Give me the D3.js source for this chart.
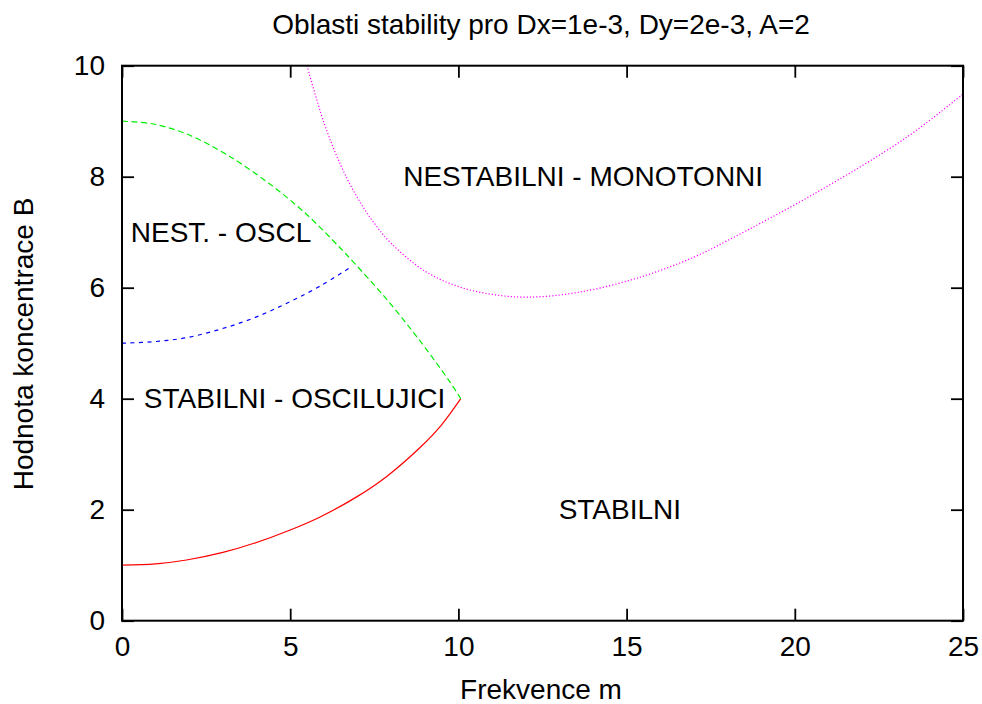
<!DOCTYPE html>
<html>
<head>
<meta charset="utf-8">
<script src="https://cdn.jsdelivr.net/npm/d3@7"></script>
<style>
  html, body { margin: 0; padding: 0; background: #fff; }
  svg { display: block; }
  text { font-family: "Liberation Sans", Arial, Helvetica, sans-serif; fill: #000; }
</style>
</head>
<body>
<svg id="chart" width="982" height="704"></svg>
<script>
// ---- data ----
const titleText = "Oblasti stability pro Dx=1e-3, Dy=2e-3, A=2";
const xLabel = "Frekvence m";
const yLabel = "Hodnota koncentrace B";
const xTicks = [0, 5, 10, 15, 20, 25];
const yTicks = [0, 2, 4, 6, 8, 10];

// red solid: lower bound of oscillating region
const redM = [0, 1, 1.92, 3, 3.9, 5, 5.89, 7, 7.87, 8.86, 9.5, 10.07];
const redB = [1.0, 1.025, 1.094, 1.23, 1.39, 1.635, 1.87, 2.24, 2.6, 3.12, 3.53, 4.0];
// green dashed: upper bound of oscillating region
const greenM = [0, 0.93, 1.92, 2.91, 3.5, 4.5, 5.49, 6.48, 6.88, 7.77, 8.76, 9.75, 10.07];
const greenB = [9.0, 8.95, 8.77, 8.47, 8.25, 7.82, 7.32, 6.72, 6.46, 5.86, 5.12, 4.3, 4.0];
// blue dashed: Hopf boundary
const blueM = [0, 1, 1.92, 2.91, 3.9, 4.9, 5.89, 6.85];
const blueB = [5.0, 5.03, 5.10, 5.25, 5.45, 5.72, 6.03, 6.39];
// magenta dotted: Turing boundary
const magM = [5.5, 6, 6.5, 7, 7.5, 8, 9, 10, 11, 12.07, 13.5, 15.3, 17, 18, 20.6, 23.3, 25];
const magB = [10, 8.98, 8.21, 7.62, 7.16, 6.80, 6.30, 6.02, 5.88, 5.83, 5.91, 6.17, 6.55, 6.85, 7.70, 8.70, 9.49];

// region labels (text, m, B)
const labelText = ["NEST. - OSCL", "NESTABILNI - MONOTONNI", "STABILNI - OSCILUJICI", "STABILNI"];
const labelM = [0.26, 8.36, 0.65, 12.98];
const labelB = [7, 8, 4, 2];

// ---- layout ----
const W = 982, H = 704;
const margin = { left: 122, right: 19, top: 65.7, bottom: 83.3 };
const iw = W - margin.left - margin.right;
const ih = H - margin.top - margin.bottom;
const FONT = 28;

const svg = d3.select("#chart");
svg.append("rect").attr("width", W).attr("height", H).attr("fill", "#fff");

const x = d3.scaleLinear().domain([0, 25]).range([0, iw]);
const y = d3.scaleLinear().domain([0, 10]).range([ih, 0]);

const g = svg.append("g").attr("transform", `translate(${margin.left},${margin.top})`);

g.append("clipPath").attr("id", "clip")
  .append("rect").attr("width", iw).attr("height", ih);

// curves
const line = d3.line().x(d => x(d[0])).y(d => y(d[1])).curve(d3.curveCatmullRom.alpha(0.5));
const series = [
  { m: redM, b: redB, color: "#ff0000", dash: null },
  { m: greenM, b: greenB, color: "#00ee00", dash: "6,3.5" },
  { m: blueM, b: blueB, color: "#0000ff", dash: "4,4.5" },
  { m: magM, b: magB, color: "#ff00ff", dash: "1.2,2" }
];
const plot = g.append("g").attr("clip-path", "url(#clip)");
series.forEach(s => {
  const pts = s.m.map((mv, i) => [mv, s.b[i]]);
  plot.append("path")
    .attr("d", line(pts))
    .attr("fill", "none")
    .attr("stroke", s.color)
    .attr("stroke-width", 1.2)
    .attr("stroke-dasharray", s.dash);
});

// axes (inward ticks, mirrored)
const tickLen = 12;
function styleAxis(sel) {
  sel.select(".domain").remove();
  sel.selectAll(".tick line").attr("stroke", "#000").attr("stroke-width", 1.8);
  sel.selectAll("text").style("font-size", FONT + "px")
    .style("font-family", '"Liberation Sans", Arial, sans-serif').attr("fill", "#000");
}
g.append("g").attr("transform", `translate(0,${ih})`)
  .call(d3.axisBottom(x).tickValues(xTicks).tickFormat(d3.format("d")).tickSizeInner(-tickLen).tickSizeOuter(0).tickPadding(15))
  .call(styleAxis);
g.append("g")
  .call(d3.axisTop(x).tickValues(xTicks).tickFormat("").tickSizeInner(-tickLen).tickSizeOuter(0))
  .call(styleAxis);
g.append("g")
  .call(d3.axisLeft(y).tickValues(yTicks).tickFormat(d3.format("d")).tickSizeInner(-tickLen).tickSizeOuter(0).tickPadding(17))
  .call(styleAxis);
g.append("g").attr("transform", `translate(${iw},0)`)
  .call(d3.axisRight(y).tickValues(yTicks).tickFormat("").tickSizeInner(-tickLen).tickSizeOuter(0))
  .call(styleAxis);

// frame
g.append("rect").attr("width", iw).attr("height", ih)
  .attr("fill", "none").attr("stroke", "#000").attr("stroke-width", 2);

// region labels
labelText.forEach((t, i) => {
  g.append("text")
    .attr("x", x(labelM[i]))
    .attr("y", y(labelB[i]))
    .attr("dy", "0.35em")
    .style("font-size", FONT + "px")
    .text(t);
});

// title & axis labels
svg.append("text").attr("x", 541).attr("y", 34).attr("text-anchor", "middle")
  .style("font-size", FONT + "px").text(titleText);
svg.append("text").attr("x", 541).attr("y", 699).attr("text-anchor", "middle")
  .style("font-size", FONT + "px").text(xLabel);
svg.append("text").attr("transform", `translate(33,344) rotate(-90)`).attr("text-anchor", "middle")
  .style("font-size", FONT + "px").text(yLabel);
</script>
</body>
</html>
